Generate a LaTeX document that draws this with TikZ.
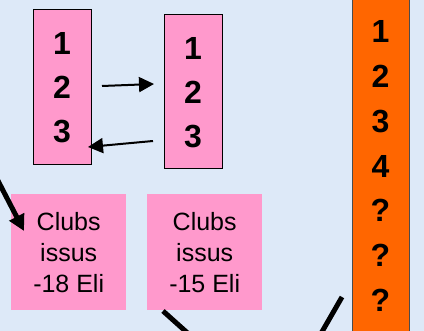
\documentclass[tikz,border=0pt]{standalone}
\usepackage{fontspec}
\setmainfont{Liberation Sans}
\usetikzlibrary{arrows.meta}

\definecolor{bgblue}{RGB}{221,233,248}
\definecolor{clubpink}{RGB}{255,153,204}
\definecolor{rankorange}{RGB}{255,102,0}

\tikzset{
  rankbox/.style={draw=black, line width=1pt, fill=clubpink, inner sep=0pt,
    minimum width=58pt, minimum height=155pt, anchor=north west},
  digit/.style={font=\fontsize{32}{32}\selectfont\bfseries, anchor=base, inner sep=0pt},
  clubbox/.style={fill=clubpink, inner sep=0pt, minimum width=115pt, minimum height=116pt,
    anchor=north west, align=center, font=\fontsize{25}{31}\selectfont},
  swap/.style={line width=2pt, -{Triangle[length=15pt,width=15pt]}},
  link/.style={line width=5pt}
}

\begin{document}
\begin{tikzpicture}[x=1pt,y=-1pt]
    \useasboundingbox[fill=bgblue] (0,0) rectangle (424,331);
    % the two club rankings
    \node[rankbox] (rankA) at (33,9) {};
    \node[rankbox, minimum height=154pt] (rankB) at (164,14) {};
    \foreach \d [count=\i] in {1,2,3} {
      \node[digit] (a\i) at (62,55+44*\i-44) {\d};
      \node[digit] (b\i) at (193,60+44*\i-44) {\d};
    }
    % the long list on the right
    \node[draw=black!70, line width=1pt, fill=rankorange, minimum width=57pt,
      minimum height=336pt, anchor=north west, inner sep=0pt] (list) at (352,-2) {};
    \foreach \d [count=\i] in {1,2,3,4,?,?,?}
      \node[digit] (l\i) at (380.5,43+44.7*\i-44.7) {\d};
    % the clubs boxes
    \node[clubbox] (clubsA) at (11,194) {Clubs\\issus\\-18 Eli};
    \node[clubbox] (clubsB) at (147,194) {Clubs\\issus\\-15 Eli};
    % arrows between the rankings
    \coordinate (outA) at (102,86);
    \coordinate (inB) at (154,84);
    \coordinate (outB) at (153,141);
    \coordinate (inA) at (88,147);
    \draw[swap] (outA) -- (inB);
    \draw[swap] (outB) -- (inA);
    % links coming in from outside
    \coordinate (fromTop) at (-5,175);
    \coordinate (toClubs) at (24,231);
    \draw[link, -{Triangle[length=16pt,width=16pt]}] (fromTop) -- (toClubs);
    \coordinate (lowA) at (163,311);
    \coordinate (lowB) at (192,337);
    \draw[link] (lowA) -- (lowB);
    \coordinate (lowC) at (342,297);
    \coordinate (lowD) at (319,337);
    \draw[link] (lowC) -- (lowD);
\end{tikzpicture}
\end{document}
